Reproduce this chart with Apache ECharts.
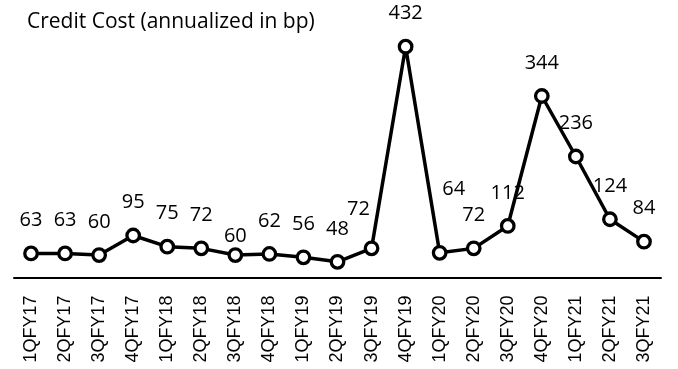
<!DOCTYPE html>
<html>
<head>
<meta charset="utf-8">
<script src="https://cdn.jsdelivr.net/npm/echarts@6/dist/echarts.min.js"></script>
<style>
html,body{margin:0;padding:0;background:#fff;}
#chart{width:678px;height:369px;}
</style>
</head>
<body>
<div id="chart"></div>
<script>
const categories = ["1QFY17","2QFY17","3QFY17","4QFY17","1QFY18","2QFY18","3QFY18","4QFY18","1QFY19","2QFY19","3QFY19","4QFY19","1QFY20","2QFY20","3QFY20","4QFY20","1QFY21","2QFY21","3QFY21"];
const creditCost = [63,63,60,95,75,72,60,62,56,48,72,432,64,72,112,344,236,124,84];
const titleText = "Credit Cost (annualized in bp)";

// label placement tweaks (index -> [dx, dy] relative to the default spot)
const labelNudges = {6: [0, 14], 10: [-13, -6], 12: [14, -31]};

const seriesData = creditCost.map((v, i) => {
  const n = labelNudges[i] || [0, 0];
  return { value: v, label: { offset: [n[0], -33 + n[1]] } };
});

const chart = echarts.init(document.getElementById('chart'));
chart.setOption({
  animation: false,
  backgroundColor: '#ffffff',
  title: {
    text: titleText,
    left: 27,
    top: 12,
    padding: 0,
    textStyle: { fontFamily: 'Open Sans', fontSize: 21, fontWeight: 'normal', color: '#000' }
  },
  grid: { left: 14, right: 17, top: 8.6, bottom: 91.5 },
  xAxis: {
    type: 'category',
    data: categories,
    boundaryGap: true,
    axisLine: { lineStyle: { color: '#000', width: 2 } },
    axisTick: { show: false },
    axisLabel: {
      rotate: 90,
      margin: 18,
      fontFamily: 'Liberation Sans',
      fontSize: 18,
      color: '#000',
      interval: 0
    }
  },
  yAxis: {
    type: 'value',
    min: 20,
    max: 500,
    show: false,
    splitLine: { show: false }
  },
  series: [{
    type: 'line',
    data: seriesData,
    symbol: 'circle',
    symbolSize: 12.5,
    showAllSymbol: true,
    lineStyle: { color: '#000', width: 3.5 },
    itemStyle: { color: '#fff', borderColor: '#000', borderWidth: 3.3 },
    label: {
      show: true,
      position: 'inside',
      fontFamily: 'Open Sans',
      fontSize: 20,
      color: '#000'
    },
    emphasis: { disabled: true }
  }]
});
</script>
</body>
</html>
